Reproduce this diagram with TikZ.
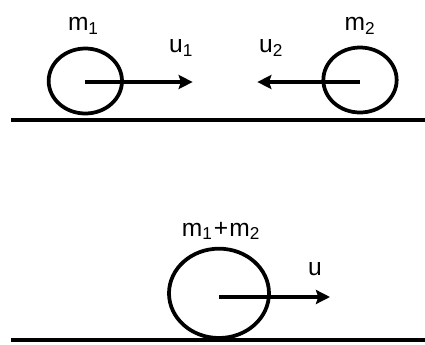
\documentclass[tikz,border=0pt]{standalone}
\usepackage{fontspec}
\setmainfont{Liberation Sans}
\usetikzlibrary{arrows.meta, positioning, shapes.geometric}
\tikzset{
  ball/.style={draw=black, ellipse, line width=3.2pt,
               minimum width=#1, inner sep=0pt},
  lbl/.style={font=\fontsize{21}{23}\selectfont, inner sep=0pt},
  vel/.style={-{Stealth[length=12pt, width=12pt, inset=2pt]}, line width=3.4pt},
  ground/.style={line width=2.8pt},
}

\begin{document}
\begin{tikzpicture}
    \useasboundingbox (0,0) rectangle (12.75,10.32);

    % before
    \coordinate (gA) at (0.33, 6.72);
    \coordinate (gB) at (12.75, 6.72);
    \draw[ground] (gA) -- (gB);

    \node[ball=2.20cm, minimum height=1.95cm] (b1) at (2.56, 7.89) {};
    \node[ball=2.20cm, minimum height=1.95cm] (b2) at (10.80, 7.92) {};
    \coordinate (e1) at (5.78, 7.86);
    \coordinate (e2) at (7.72, 7.86);
    \draw[vel] (b1.center |- e1) -- (e1);
    \draw[vel] (b2.center |- e2) -- (e2);

    \node[lbl] (m1) at (2.50, 9.55) {m\textsubscript{1}};
    \node[lbl] (m2) at (10.80, 9.55) {m\textsubscript{2}};
    \node[lbl] (u1) at (5.43, 8.88) {u\textsubscript{1}};
    \node[lbl] (u2) at (8.13, 8.88) {u\textsubscript{2}};

    % after
    \coordinate (gC) at (0.33, 0.12);
    \coordinate (gD) at (12.75, 0.12);
    \draw[ground] (gC) -- (gD);

    \node[ball=3.00cm, minimum height=2.68cm] (b3) at (6.57, 1.52) {};
    \coordinate (e3) at (9.90, 1.41);
    \draw[vel] (b3.center |- e3) -- (e3);

    \node[lbl] (m12) at (6.63, 3.39) {m\textsubscript{1}\kern1pt+\kern1pt m\textsubscript{2}};
    \node[lbl] (u)   at (9.45, 2.25) {u};
\end{tikzpicture}
\end{document}
